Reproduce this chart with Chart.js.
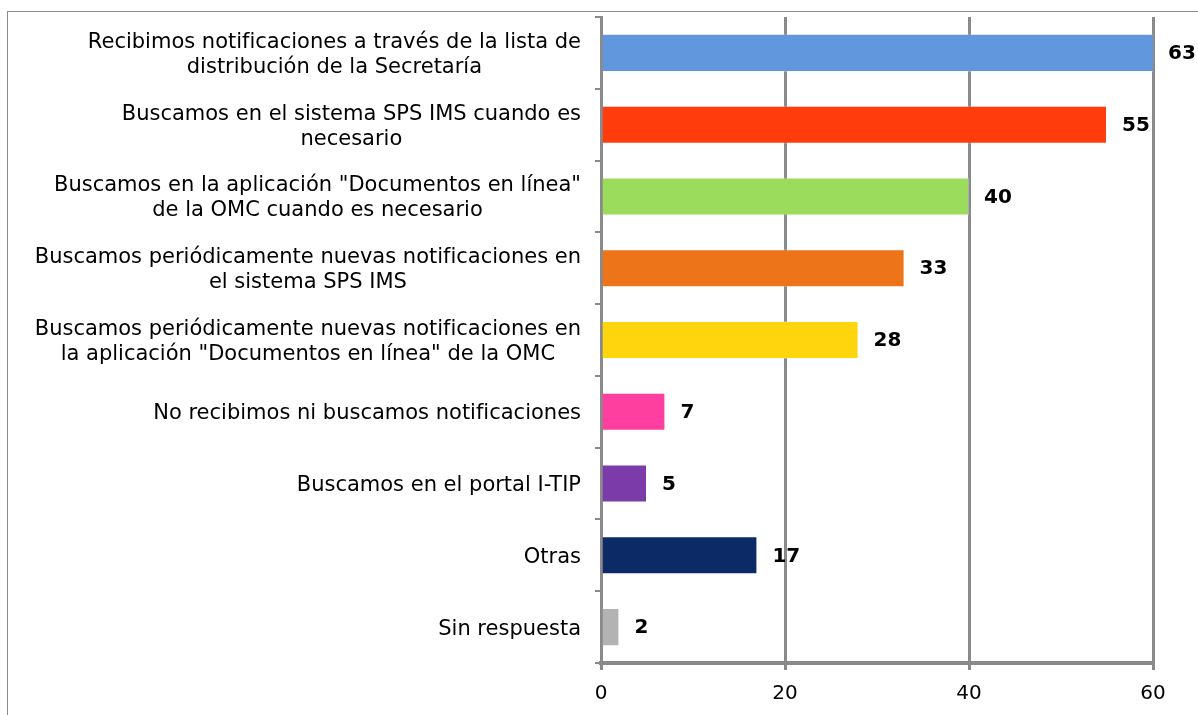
<!DOCTYPE html>
<html lang="es">

<head>
  <meta charset="UTF-8">
  <title>Notificaciones MSF</title>
  <script src="https://cdn.jsdelivr.net/npm/chart.js"></script>
  <style>
    html, body { margin: 0; padding: 0; background: #fff; }
    #wrap { width: 1198px; height: 715px; position: relative; }
  </style>
</head>

<body>
  <div id="wrap">
    <canvas id="chart"></canvas>
  </div>

  <script>
    // Data
    const categories = [
      ['Recibimos notificaciones a través de la lista de', 'distribución de la Secretaría'],
      ['Buscamos en el sistema SPS IMS cuando es', 'necesario'],
      ['Buscamos en la aplicación "Documentos en línea"', 'de la OMC cuando es necesario'],
      ['Buscamos periódicamente nuevas notificaciones en', 'el sistema SPS IMS'],
      ['Buscamos periódicamente nuevas notificaciones en', 'la aplicación "Documentos en línea" de la OMC'],
      ['No recibimos ni buscamos notificaciones'],
      ['Buscamos en el portal I-TIP'],
      ['Otras'],
      ['Sin respuesta']
    ];
    const values = [63, 55, 40, 33, 28, 7, 5, 17, 2];
    const barColors = ['#6197dd', '#ff3c0c', '#9cdc5c', '#ee7419', '#ffd60e', '#ff3fa0', '#7b3ba8', '#0c2a66', '#b3b3b3'];
    const xTicks = [0, 20, 40, 60];

    const fontFamily = '"DejaVu Sans", Verdana, sans-serif';
    const labelFont = '21px ' + fontFamily;
    const valueFont = 'bold 20px ' + fontFamily;

    // outer frame, category labels (lines centred inside a right-aligned block), value labels
    const decor = {
      id: 'decor',
      beforeDraw(chart) {
        const ctx = chart.ctx;
        ctx.save();
        ctx.strokeStyle = '#8c8c8c';
        ctx.lineWidth = 1;
        ctx.strokeRect(7.5, 11.5, 1400, 900);
        ctx.restore();
      },
      afterDatasetsDraw(chart) {
        const ctx = chart.ctx;
        const y = chart.scales.y;
        const meta = chart.getDatasetMeta(0);
        ctx.save();
        ctx.fillStyle = '#000';
        ctx.textBaseline = 'middle';
        ctx.textAlign = 'center';
        ctx.font = labelFont;
        const rightEdge = 581;
        const lineH = 25;
        categories.forEach((lines, i) => {
          const cy = y.getPixelForValue(i);
          const w = Math.max(...lines.map(l => ctx.measureText(l).width));
          const cx = rightEdge - w / 2;
          const y0 = cy - (lines.length - 1) * lineH / 2 + 2;
          lines.forEach((l, k) => ctx.fillText(l, cx, y0 + k * lineH));
        });
        ctx.font = valueFont;
        ctx.textAlign = 'left';
        meta.data.forEach((bar, i) => {
          const x = Math.min(bar.x, chart.chartArea.right);
          ctx.fillText(String(values[i]), x + 15, bar.y + 1);
        });
        ctx.restore();
      }
    };

    new Chart(document.getElementById('chart'), {
      type: 'bar',
      data: {
        labels: categories.map(c => c.join(' ')),
        datasets: [{
          data: values,
          backgroundColor: barColors,
          borderColor: 'rgba(255,255,255,0.3)',
          borderWidth: 1,
          categoryPercentage: 1,
          barPercentage: 0.53
        }]
      },
      options: {
        indexAxis: 'y',
        responsive: true,
        maintainAspectRatio: false,
        animation: false,
        layout: { padding: { top: 17, right: 45, left: 0, bottom: 0 } },
        plugins: {
          legend: { display: false },
          tooltip: { enabled: false }
        },
        scales: {
          x: {
            min: 0,
            max: 60,
            afterBuildTicks(scale) { scale.ticks = xTicks.map(v => ({ value: v })); },
            afterFit(scale) { scale.height = 52; },
            grid: { color: '#8a8a8a', lineWidth: 3, tickLength: 7, drawTicks: true },
            border: { color: '#8a8a8a', width: 4 },
            ticks: {
              color: '#000',
              padding: 12,
              font: { family: fontFamily, size: 20 }
            }
          },
          y: {
            offset: true,
            afterFit(scale) { scale.width = 601; },
            grid: { display: true, drawOnChartArea: false, drawTicks: true, tickLength: 6, color: '#8a8a8a', lineWidth: 2 },
            border: { color: '#8a8a8a', width: 3 },
            ticks: { display: false }
          }
        }
      },
      plugins: [decor]
    });
  </script>
</body>

</html>
